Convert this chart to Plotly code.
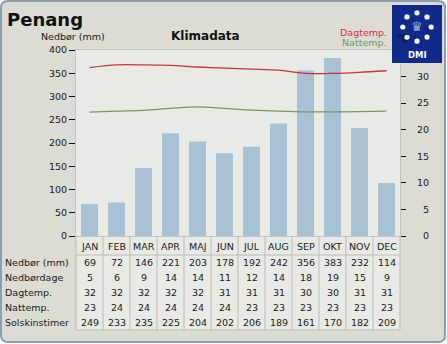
import plotly.graph_objects as go

months = ["JAN", "FEB", "MAR", "APR", "MAJ", "JUN", "JUL", "AUG", "SEP", "OKT", "NOV", "DEC"]
nedboer = [69, 72, 146, 221, 203, 178, 192, 242, 356, 383, 232, 114]
nedboerdage = [5, 6, 9, 14, 14, 11, 12, 14, 18, 19, 15, 9]
dagtemp = [32, 32, 32, 32, 32, 31, 31, 31, 30, 30, 31, 31]
nattemp = [23, 24, 24, 24, 24, 24, 23, 23, 23, 23, 23, 23]
solskin = [249, 233, 235, 225, 204, 202, 206, 189, 161, 170, 182, 209]
# smoothed curves as drawn in the chart (°C)
dag_curve = [31.7, 32.2, 32.2, 32.1, 31.8, 31.6, 31.4, 31.2, 30.6, 30.6, 30.8, 31.1]
nat_curve = [23.3, 23.5, 23.65, 24.0, 24.3, 24.0, 23.7, 23.5, 23.35, 23.35, 23.4, 23.5]
left_ticks = [0, 50, 100, 150, 200, 250, 300, 350, 400]
right_ticks = [0, 5, 10, 15, 20, 25, 30]
row_labels = ["Nedbør (mm)", "Nedbørdage", "Dagtemp.", "Nattemp.", "Solskinstimer"]

W, H = 447, 344
L, R, T, B = 76, 47, 50, 108
PW, PH = W - L - R, H - T - B

def xp(px):
    return (px - L) / PW

def yp(py):
    return (H - B - py) / PH

FONT = "DejaVu Sans"
FS = 9.5
BG = "#dcdcd4"
PBG = "#e8eae5"
GRID = "#bcbcb4"

fig = go.Figure()
fig.add_trace(go.Bar(x=months, y=nedboer, marker=dict(color="#a9c1d5", line=dict(width=0)),
                     width=0.63, yaxis="y"))
fig.add_trace(go.Scatter(x=months, y=dag_curve, mode="lines", yaxis="y2",
                         line=dict(color="#d03333", width=1.3, shape="spline", smoothing=0.8)))
fig.add_trace(go.Scatter(x=months, y=nat_curve, mode="lines", yaxis="y2",
                         line=dict(color="#6e9e58", width=1.3, shape="spline", smoothing=0.8)))

shapes = []
# outer rounded frame
x0, y0, x1, y1, r = 1, 1, 445, 342, 7
pts = (f"M {xp(x0 + r)},{yp(y0)} L {xp(x1 - r)},{yp(y0)} Q {xp(x1)},{yp(y0)} {xp(x1)},{yp(y0 + r)} "
       f"L {xp(x1)},{yp(y1 - r)} Q {xp(x1)},{yp(y1)} {xp(x1 - r)},{yp(y1)} "
       f"L {xp(x0 + r)},{yp(y1)} Q {xp(x0)},{yp(y1)} {xp(x0)},{yp(y1 - r)} "
       f"L {xp(x0)},{yp(y0 + r)} Q {xp(x0)},{yp(y0)} {xp(x0 + r)},{yp(y0)} Z")
shapes.append(dict(type="path", path=pts, xref="paper", yref="paper", fillcolor=BG,
                   line=dict(color="#8d9db2", width=2), layer="below"))
# plot background
shapes.append(dict(type="rect", xref="paper", yref="paper", x0=0, x1=1, y0=0, y1=1,
                   fillcolor=PBG, line=dict(width=0), layer="below"))
# table background
shapes.append(dict(type="rect", xref="paper", yref="paper", x0=0, x1=1, y0=yp(330), y1=yp(236),
                   fillcolor=PBG, line=dict(width=0), layer="below"))
for k in range(13):
    shapes.append(dict(type="line", xref="paper", yref="paper", x0=k / 12, x1=k / 12,
                       y0=yp(236), y1=yp(330), line=dict(color=GRID, width=1), layer="above"))
for py in (255, 330):
    shapes.append(dict(type="line", xref="paper", yref="paper", x0=0, x1=1,
                       y0=yp(py), y1=yp(py), line=dict(color=GRID, width=1), layer="above"))
# DMI logo
shapes.append(dict(type="rect", xref="paper", yref="paper", x0=xp(392), x1=xp(442), y0=yp(63), y1=yp(5),
                   fillcolor="#0f2a8a", line=dict(width=0), layer="above"))
import math
cx, cy, rr, dr = 417, 27, 14.2, 2.6
for i in range(8):
    a = math.radians(90 - 45 * i)
    dx, dy = cx + rr * math.cos(a), cy - rr * math.sin(a)
    shapes.append(dict(type="circle", xref="paper", yref="paper",
                       x0=xp(dx - dr), x1=xp(dx + dr), y0=yp(dy + dr), y1=yp(dy - dr),
                       fillcolor="white", line=dict(width=0), layer="above"))

ann = []
def txt(t, x, y, size=FS, color="#1a1a1a", xanchor="center", xref="paper", bold=False):
    ann.append(dict(text=f"<b>{t}</b>" if bold else t, x=x, y=yp(y), xref=xref, yref="paper",
                    xanchor=xanchor, yanchor="middle", showarrow=False,
                    font=dict(family=FONT, size=size, color=color)))

txt("Penang", xp(5), 19.5, size=18, color="#111", xanchor="left", bold=True)
txt("Klimadata", xp(205), 35.5, size=12, color="#111", bold=True)
txt("Nedbør (mm)", xp(73), 36, size=FS)
txt("Dagtemp.", xp(389), 32, size=FS, color="#d03333", xanchor="right")
txt("Nattemp.", xp(389), 42, size=FS, color="#6e9e58", xanchor="right")
txt("♛", xp(417), 26.5, size=13, color="#9fb1dc")
txt("DMI", xp(417), 55, size=8.5, color="white", bold=True)
txt("°C", xp(395), 38, size=10, color="#111", xanchor="left")

row_y = [262, 277, 292, 307, 322]
for m in months:
    txt(m, m, 246.5, xref="x")
for lab, vals, y in zip(row_labels, [nedboer, nedboerdage, dagtemp, nattemp, solskin], row_y):
    txt(lab, xp(3), y, xanchor="left")
    for m, v in zip(months, vals):
        txt(str(v), m, y, xref="x")

right_text = [("\u2007" + str(v)) if v < 10 else str(v) for v in right_ticks]

fig.update_layout(
    width=W, height=H, margin=dict(l=L, r=R, t=T, b=B, pad=0),
    paper_bgcolor="white", plot_bgcolor="rgba(0,0,0,0)",
    showlegend=False, bargap=0.37,
    font=dict(family=FONT, size=FS, color="#1a1a1a"),
    xaxis=dict(type="category", range=[-0.5, 11.5], showticklabels=False, ticks="",
               showgrid=False, zeroline=False, showline=True, mirror=True,
               linecolor="#c4c4bc", linewidth=1, fixedrange=True),
    yaxis=dict(range=[0, 400], tickvals=left_ticks, ticks="outside", ticklen=6,
               tickcolor="#111", showgrid=False, zeroline=False, showline=True, mirror=True,
               linecolor="#c4c4bc", tickfont=dict(size=FS, color="#1a1a1a")),
    yaxis2=dict(range=[0, 35], overlaying="y", side="right", tickvals=right_ticks,
                ticktext=right_text, ticks="outside", ticklen=5, tickcolor="#111",
                ticklabelstandoff=9, showgrid=False, zeroline=False, showline=False,
                tickfont=dict(size=FS, color="#1a1a1a")),
    shapes=shapes, annotations=ann,
)
fig.write_html("out.html")
